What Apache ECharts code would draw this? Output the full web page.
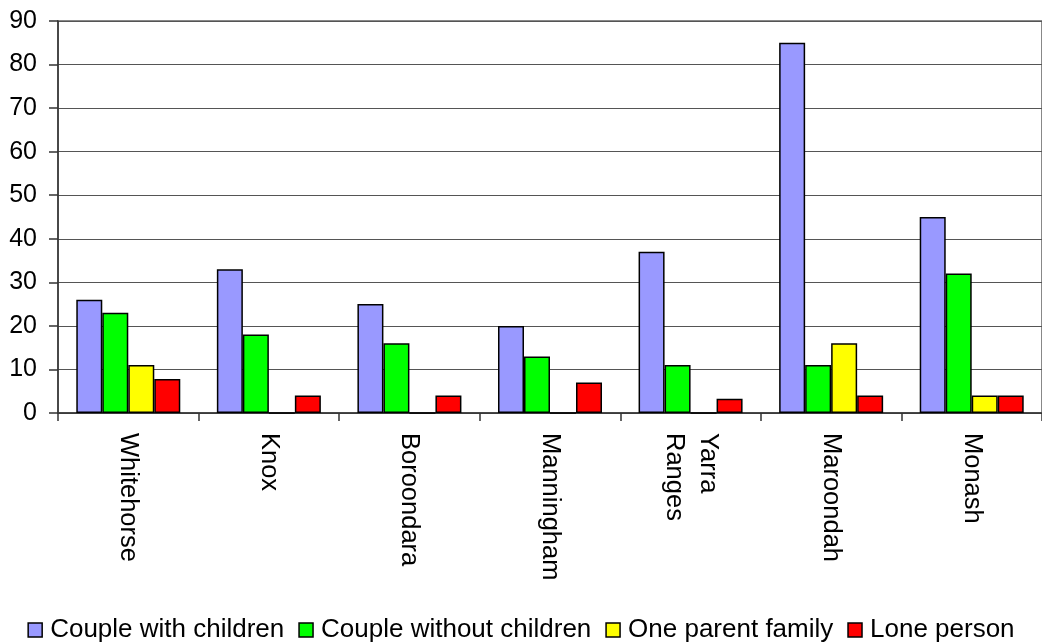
<!DOCTYPE html>
<html>
<head>
<meta charset="utf-8">
<script src="https://cdn.jsdelivr.net/npm/echarts@6/dist/echarts.min.js"></script>
<style>html,body{margin:0;padding:0;background:#fff}#c{width:1042px;height:643px}</style>
</head>
<body>
<div id="c"></div>
<script>
var categories = ['Whitehorse', 'Knox', 'Boroondara', 'Manningham', 'Yarra\nRanges', 'Maroondah', 'Monash'];
var coupleWithChildren = [26, 33, 25, 20, 37, 85, 45];
var coupleWithoutChildren = [23, 18, 16, 13, 11, 11, 32];
var oneParentFamily = [11, 0, 0, 0, 0, 16, 4];
var lonePerson = [7.8, 4, 4, 7, 3.3, 4, 4];
var seriesNames = ['Couple with children', 'Couple without children', 'One parent family', 'Lone person'];
var seriesColors = ['#9999FF', '#00FF00', '#FFFF00', '#FF0000'];
var seriesData = [coupleWithChildren, coupleWithoutChildren, oneParentFamily, lonePerson];

var font = '"Liberation Sans", Arial, sans-serif';
var chart = echarts.init(document.getElementById('c'), null, {renderer: 'canvas'});
chart.setOption({
  animation: false,
  backgroundColor: '#fff',
  textStyle: {fontFamily: font},
  grid: {left: 58, right: -1, top: 21, bottom: 230, show: true, borderColor: '#888', borderWidth: 2, backgroundColor: 'transparent'},
  legend: {
    top: 612, left: 'center', icon: 'rect', itemWidth: 14, itemHeight: 14, itemGap: 14,
    textStyle: {fontSize: 26, color: '#000', fontFamily: font, padding: [0, 0, 0, 3]},
    itemStyle: {borderColor: '#000', borderWidth: 1.5},
    data: seriesNames
  },
  xAxis: {
    type: 'category', data: categories,
    axisLine: {lineStyle: {color: '#333', width: 1.5}},
    axisTick: {show: true, length: 8, lineStyle: {color: '#333', width: 1.5}},
    axisLabel: {rotate: -90, margin: 20, fontSize: 25.5, color: '#000', fontFamily: font, interval: 0, lineHeight: 34}
  },
  yAxis: {
    type: 'value', min: 0, max: 90, interval: 10,
    axisLine: {show: true, lineStyle: {color: '#333', width: 1.5}},
    axisTick: {show: true, length: 9, lineStyle: {color: '#333', width: 1.5}},
    axisLabel: {margin: 21, fontSize: 25, color: '#000', fontFamily: font},
    splitLine: {lineStyle: {color: '#555', width: 1}}
  },
  series: seriesData.map(function (d, i) {
    return {
      name: seriesNames[i], type: 'bar', data: d, barWidth: 26, barGap: '0%',
      itemStyle: {color: seriesColors[i], borderColor: '#000', borderWidth: 1.5}
    };
  })
});
</script>
</body>
</html>
